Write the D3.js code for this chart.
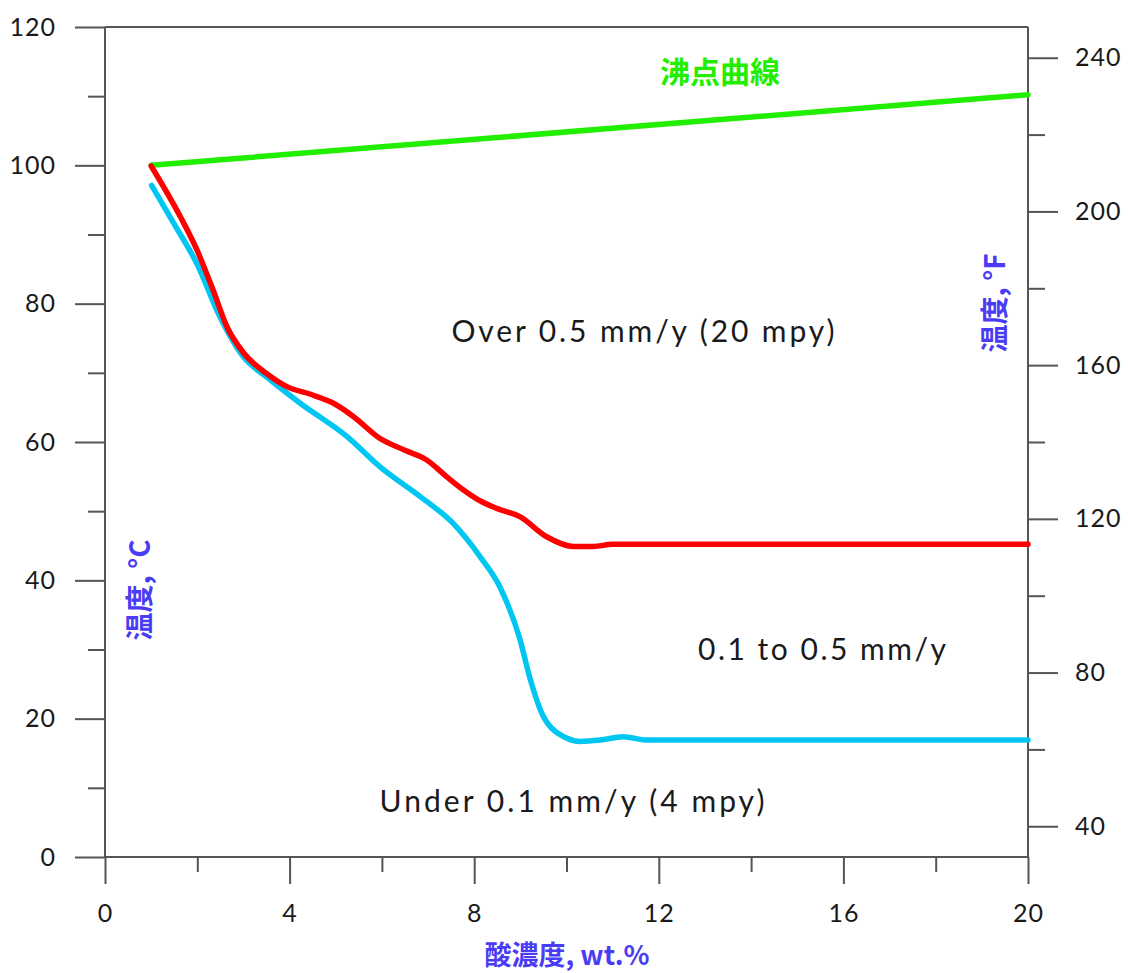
<!DOCTYPE html>
<html>
<head>
<meta charset="utf-8">
<script src="https://cdn.jsdelivr.net/npm/d3@7"></script>
<style>
  body { margin: 0; background: #fff; }
  svg { display: block; }
  .tick text { font-family: Lato, "Open Sans", sans-serif; fill: #1a1a1a; letter-spacing: 1px; }
</style>
</head>
<body>
<svg id="chart" width="1128" height="973"></svg>
<script>
// Acid concentration (wt.%) vs temperature (°C): iso-corrosion curves
const boilingX = [1, 20];
const boilingY = [100, 110.2];

const redX = [1.0, 1.63, 1.99, 2.34, 2.64, 3.0, 3.5, 3.94, 4.5, 4.95, 5.38, 5.96, 6.5, 6.97, 7.4, 7.76, 8.1, 8.49, 8.99, 9.57, 10.15, 10.58, 11.0, 20];
const redY = [99.9, 92.6, 87.8, 82.0, 76.7, 72.9, 69.9, 68.0, 66.8, 65.6, 63.7, 60.5, 58.8, 57.4, 55.0, 53.1, 51.6, 50.4, 49.2, 46.3, 44.9, 44.9, 45.2, 45.2];

const blueX = [1.01, 1.5, 1.99, 2.49, 3.0, 3.5, 4.23, 5.24, 5.96, 6.83, 7.55, 8.13, 8.56, 8.99, 9.21, 9.5, 10.0, 10.29, 10.73, 11.23, 11.74, 20];
const blueY = [97.1, 91.5, 85.8, 78.1, 72.3, 69.4, 65.6, 60.8, 56.4, 52.1, 48.2, 43.4, 39.0, 31.5, 25.8, 20.3, 17.2, 16.7, 16.9, 17.4, 16.9, 16.9];

const xMajor = [0, 4, 8, 12, 16, 20];
const xMinor = [2, 6, 10, 14, 18];
const cMajor = [0, 20, 40, 60, 80, 100, 120];
const cMinor = [10, 30, 50, 70, 90, 110];
const fMajor = [40, 80, 120, 160, 200, 240];
const fMinor = [60, 100, 140, 180, 220];

const svg = d3.select("#chart");
const plotL = 105, plotR = 1028, plotT = 27, plotB = 857;

const x = d3.scaleLinear().domain([0, 20]).range([plotL, plotR]);
const yC = d3.scaleLinear().domain([0, 120]).range([plotB, plotT]);
const yF = d3.scaleLinear().domain([32, 248]).range([plotB, plotT]); // 0–120 °C in °F

const axisColor = "#555";
function styleAxis(g) {
  g.select(".domain").remove();
  g.selectAll(".tick line").attr("stroke", axisColor).attr("stroke-width", 2);
}

// frame
[[plotL, plotT, plotR, plotT], [plotL, plotB, plotR, plotB],
 [plotL, plotT, plotL, plotB], [plotR, plotT, plotR, plotB]].forEach(([x1, y1, x2, y2]) => {
  svg.append("line").attr("x1", x1).attr("y1", y1).attr("x2", x2).attr("y2", y2)
    .attr("stroke", axisColor).attr("stroke-width", 2);
});

// left °C axis
svg.append("g").attr("transform", `translate(${plotL},0)`)
  .call(d3.axisLeft(yC).tickValues(cMinor).tickSize(17).tickFormat("")).call(styleAxis);
svg.append("g").attr("transform", `translate(${plotL},0)`)
  .call(d3.axisLeft(yC).tickValues(cMajor).tickSize(30).tickPadding(19)).call(styleAxis)
  .selectAll("text").attr("font-size", 25);

// bottom axis
svg.append("g").attr("transform", `translate(0,${plotB})`)
  .call(d3.axisBottom(x).tickValues(xMinor).tickSize(15).tickFormat("")).call(styleAxis);
svg.append("g").attr("transform", `translate(0,${plotB})`)
  .call(d3.axisBottom(x).tickValues(xMajor).tickSize(27).tickPadding(20)).call(styleAxis)
  .selectAll("text").attr("font-size", 25);

// right °F axis
svg.append("g").attr("transform", `translate(${plotR},0)`)
  .call(d3.axisRight(yF).tickValues(fMinor).tickSize(17).tickFormat("")).call(styleAxis);
svg.append("g").attr("transform", `translate(${plotR},0)`)
  .call(d3.axisRight(yF).tickValues(fMajor).tickSize(30).tickPadding(17)).call(styleAxis)
  .selectAll("text").attr("font-size", 25);

// curves
const line = d3.line().x(d => x(d[0])).y(d => yC(d[1])).curve(d3.curveMonotoneX);
const series = [
  { xs: boilingX, ys: boilingY, color: "#22ee00" },
  { xs: blueX, ys: blueY, color: "#00c6f2" },
  { xs: redX, ys: redY, color: "#ff0000" }
];
series.forEach(s => {
  svg.append("path")
    .datum(s.xs.map((v, i) => [v, s.ys[i]]))
    .attr("d", line)
    .attr("fill", "none")
    .attr("stroke", s.color)
    .attr("stroke-width", 5.5)
    .attr("stroke-linejoin", "round")
    .attr("stroke-linecap", "round");
});

// region labels
const latin = 'Lato, "Open Sans", sans-serif';
const cjk = '"Noto Sans CJK JP", "Noto Sans CJK SC", sans-serif';
function label(txt, cx, cy, opts) {
  const t = svg.append("text").attr("x", cx).attr("y", cy)
    .attr("text-anchor", "middle").attr("dominant-baseline", "central")
    .attr("font-family", opts.font).attr("font-size", opts.size)
    .attr("font-weight", opts.weight || "normal").attr("fill", opts.color)
    .text(txt);
  if (opts.width) t.attr("textLength", opts.width).attr("lengthAdjust", "spacing");
  return t;
}
label("Over 0.5 mm/y (20 mpy)", 643, 330, { font: latin, size: 30, color: "#1a1a1a", width: 383 });
label("0.1 to 0.5 mm/y", 822, 648, { font: latin, size: 30, color: "#1a1a1a", width: 248 });
label("Under 0.1 mm/y (4 mpy)", 572, 800, { font: latin, size: 30, color: "#1a1a1a", width: 385 });
label("沸点曲線", 720, 70, { font: cjk, size: 30, color: "#22ee00", weight: "bold" });

// axis titles
label("酸濃度, wt.%", 567, 953, { font: cjk, size: 27, color: "#4a3cf5", weight: "bold" });
label("温度, °C", 0, 0, { font: cjk, size: 28, color: "#4a3cf5", weight: "bold" })
  .attr("transform", "translate(138,590) rotate(-90)");
label("温度, °F", 0, 0, { font: cjk, size: 28, color: "#4a3cf5", weight: "bold" })
  .attr("transform", "translate(993,303) rotate(-90)");
</script>
</body>
</html>
